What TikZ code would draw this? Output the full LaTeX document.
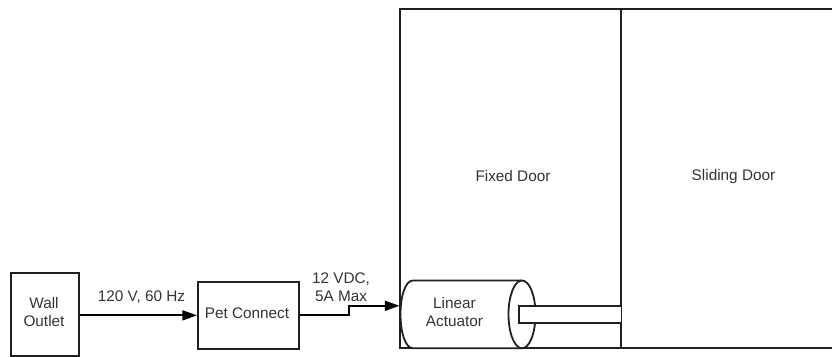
\documentclass[tikz,border=0pt]{standalone}
\usepackage{fontspec}
\setmainfont{Liberation Sans}
\usetikzlibrary{arrows.meta}
\tikzset{
  ln/.style={draw=black!88,line width=1.35pt},
  box/.style={ln,fill=white,inner sep=0pt},
  lbl/.style={inner sep=0pt,align=center,font=\fontsize{11.5}{13.5}\selectfont,text=black!80},
  wire/.style={draw=black,line width=1.35pt,-{Triangle[length=11pt,width=7.5pt]}}
}
\begin{document}
\begin{tikzpicture}[x=0.75pt,y=-0.75pt]
\useasboundingbox (0,0) rectangle (832,357);
% doors
\draw[ln] (832,9) -- (400,9) -- (400,348.3) -- (832,348.3);
\draw[ln] (620.9,9) -- (620.9,348.3);
\node[lbl] (fixedlbl) at (513,176) {Fixed Door};
\node[lbl] (slidinglbl) at (733.5,176.5) {Sliding Door};
% cylinder
\draw[ln,fill=white]
  (413,280.5) -- (522,280.5)
  .. controls (529.5,280.5) and (535.5,295.5) .. (535.5,314.3)
  .. controls (535.5,333) and (529.5,348.3) .. (522,348.3)
  -- (413,348.3)
  .. controls (405.5,348.3) and (400.5,333) .. (400.5,314.3)
  .. controls (400.5,295.5) and (405.5,280.5) .. (413,280.5) -- cycle;
\draw[ln]
  (522,280.5) .. controls (514.5,280.5) and (508.5,295.5) .. (508.5,314.3)
  .. controls (508.5,333) and (514.5,348.3) .. (522,348.3);
% rod
\fill[white] (518.7,306) rectangle (620.5,322.7);
\draw[ln] (620.9,306) -- (518.7,306) -- (518.7,322.7) -- (620.9,322.7);
\node[lbl] (act) at (454.5,312) {Linear\\Actuator};
% boxes
\node[box,anchor=north west,minimum width=51pt,minimum height=62.6pt] (wall) at (10,272) {};
\node[box,anchor=north west,minimum width=76pt,minimum height=50.2pt] (pet) at (197,281) {};
\node[lbl] (walllbl) at (44,312.5) {Wall\\Outlet};
\node[lbl] (petlbl) at (247,313) {Pet Connect};
\coordinate (stepa) at (349.3,314.3);
\coordinate (stepb) at (349.3,305.8);
\coordinate (actin) at (399.5,305.8);
\draw[wire] (wall.east |- pet.west) -- (pet.west);
\draw[wire] (pet.east) -- (stepa |- pet.east) -- (stepb) -- (actin);
\node[lbl] (la) at (141.5,297) {120 V, 60 Hz};
\node[lbl] (lb) at (341,287) {12 VDC,\\5A Max};
\end{tikzpicture}
\end{document}
